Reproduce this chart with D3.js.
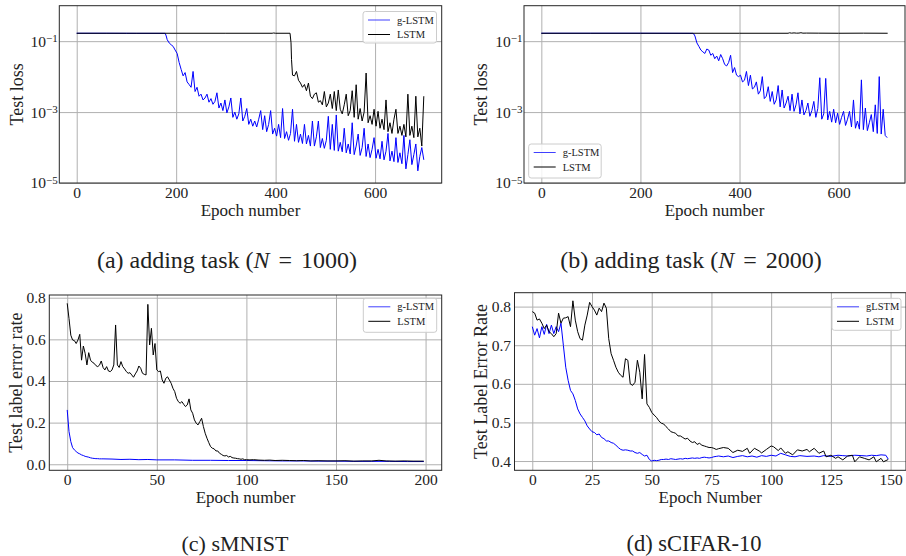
<!DOCTYPE html>
<html><head><meta charset="utf-8">
<script src="https://cdn.jsdelivr.net/npm/d3@7"></script>
<style>
body{margin:0;background:#fff}
svg{display:block}
text{font-family:"Liberation Serif","DejaVu Serif",serif;fill:#222}
</style></head>
<body><svg id="c" width="906" height="556"></svg>
<script>
// ---------------- DATA ----------------
// (a) adding task N=1000 : test loss
const addA_gFlatEpochs = [0, 60, 120, 178, 180];
const addA_gFlatLoss   = [0.167, 0.167, 0.166, 0.166, 0.14];
const addA_gStart = 182, addA_gStep = 4;
const addA_gLoss = [1.1e-1,8.9e-2,7.9e-2,7.1e-2,5.6e-2,4.5e-2,2.5e-2,1.6e-2,1.05e-2,1.3e-2,
 7.1e-3,6.0e-3,5.0e-3,1.4e-2,3.8e-3,5.0e-3,2.8e-3,3.2e-3,2.2e-3,2.5e-3,
 3.2e-3,1.9e-3,2.4e-3,1.66e-3,2.0e-3,3.5e-3,1.3e-3,1.8e-3,1.1e-3,2.2e-3,
 9.5e-4,1.4e-3,2.5e-3,7.1e-4,1.0e-3,6.3e-4,8.9e-4,2.5e-3,5.6e-4,7.6e-4,
 1.26e-3,4.5e-4,6.3e-4,4.0e-4,5.6e-4,3.8e-4,6.3e-4,1.1e-3,3.2e-4,7.9e-4,
 2.8e-4,4.5e-4,1.1e-3,2.4e-4,3.5e-4,2.1e-4,4.5e-4,1.9e-4,1.26e-3,1.8e-4,
 2.8e-4,1.6e-4,2.5e-4,1.2e-3,1.5e-4,4.5e-4,1.4e-4,2.4e-4,1.3e-4,4.5e-4,
 1.26e-4,2.2e-4,1.1e-4,5.6e-4,1.1e-4,2.0e-4,5.6e-4,1.0e-4,1.8e-4,9.5e-5,
 1.6e-4,7.6e-4,8.9e-5,4.5e-4,8.3e-5,8.3e-4,7.9e-5,1.4e-4,7.6e-5,3.5e-4,
 7.1e-5,1.26e-4,6.6e-5,5.0e-4,6.3e-5,1.1e-4,2.4e-4,6.0e-5,1.0e-4,3.5e-4,
 5.6e-5,1.26e-4,5.2e-5,8.9e-5,1.9e-4,5.0e-5,8.9e-5,4.8e-5,1.5e-4,4.5e-5,
 7.9e-5,2.5e-4,4.2e-5,7.9e-5,4.0e-5,1.9e-4,3.8e-5,7.1e-5,3.5e-5,2.2e-4,
 2.5e-5,6.3e-5,1.66e-4,3.3e-5,6.3e-5,1.26e-4,2.2e-5,5.6e-5,1.0e-4,4.5e-5];
const addA_lFlatEpochs = [0, 100, 200, 300, 393, 396, 400, 429, 431, 432];
const addA_lFlatLoss   = [0.167, 0.167, 0.167, 0.167, 0.167, 0.17, 0.167, 0.167, 0.09, 0.03];
const addA_lStart = 434, addA_lStep = 4;
const addA_lLoss = [1.1e-2,1.05e-2,1.4e-2,7.9e-3,6.6e-3,5.0e-3,6.0e-3,4.0e-3,6.6e-3,2.8e-3,
 2.4e-3,3.2e-3,3.5e-3,1.9e-3,2.1e-3,1.6e-3,3.8e-3,1.4e-3,1.8e-3,3.2e-3,
 1.26e-3,3.8e-3,1.1e-3,4.2e-3,1.2e-3,8.9e-4,1.6e-3,3.2e-3,7.9e-4,1.1e-3,
 4.0e-3,7.1e-4,5.9e-3,6.3e-4,1.26e-3,5.6e-4,1.0e-3,1.26e-2,5.0e-4,7.9e-4,
 4.5e-4,1.2e-3,4.0e-4,1.05e-3,3.5e-4,6.3e-4,3.2e-4,2.2e-3,2.8e-4,5.0e-4,
 2.5e-4,6.3e-4,1.2e-3,2.5e-4,4.0e-4,2.2e-4,4.5e-4,2.0e-4,3.2e-3,2.2e-4,
 4.0e-4,1.9e-4,2.8e-3,2.0e-4,3.5e-4,1.1e-4,2.8e-3];

// (b) adding task N=2000 : test loss
const addB_gFlatEpochs = [0, 100, 200, 306, 308];
const addB_gFlatLoss   = [0.167, 0.167, 0.167, 0.166, 0.158];
const addB_gStart = 310, addB_gStep = 4;
const addB_gLoss = [1.4e-1,8.9e-2,7.1e-2,5.6e-2,5.0e-2,4.5e-2,6.0e-2,5.6e-2,4.0e-2,4.5e-2,
 3.2e-2,3.8e-2,2.8e-2,4.2e-2,3.2e-2,2.2e-2,2.0e-2,2.5e-2,4.0e-2,1.3e-2,
 1.8e-2,1.1e-2,1.0e-2,1.1e-2,7.1e-3,7.9e-3,1.4e-2,5.6e-3,1.1e-2,4.5e-3,
 5.0e-3,7.1e-3,3.2e-3,4.0e-3,1.0e-2,2.4e-3,2.8e-3,5.2e-3,2.0e-3,3.8e-3,
 1.66e-3,2.2e-3,5.6e-3,1.4e-3,4.2e-3,1.3e-3,1.8e-3,2.8e-3,1.1e-3,3.2e-3,
 1.05e-3,1.6e-3,3.5e-3,8.9e-4,2.2e-3,8.3e-4,1.1e-3,1.8e-3,7.6e-4,1.1e-3,
 2.0e-3,7.1e-4,1.26e-3,9.3e-3,6.3e-4,8.9e-4,8.9e-3,6.0e-4,1.05e-3,5.2e-4,
 1.2e-3,5.0e-4,9.3e-4,4.5e-4,7.1e-4,1.05e-3,4.2e-4,6.3e-4,1.05e-3,3.8e-4,
 2.2e-3,3.5e-4,5.6e-4,3.3e-4,8.1e-3,3.2e-4,1.3e-3,3.0e-4,5.0e-4,8.5e-4,
 2.8e-4,1.6e-3,2.5e-4,1.0e-2,2.4e-4,1.2e-3,2.2e-4,1.9e-4];
const addB_lEpochs = [0,100,200,300,400,498,501,505,510,515,520,524,528,535,560,600,650,699];
const addB_lLoss   = [0.167,0.167,0.167,0.167,0.167,0.167,0.172,0.168,0.171,0.168,0.169,0.173,0.168,0.169,0.168,0.167,0.168,0.167];

// (c) sMNIST : test label error rate
const mn_gEarly = [0.261,0.157,0.109,0.080,0.069,0.061,0.054,0.050,0.045,0.042,0.038,0.036,0.034,0.031,0.029,0.028,0.027,0.027,0.026,0.026,0.026];
const mn_gTailEpochs = [25,30,35,40,45,50,60,70,80,90,100,110,120,130,140,150,160,170,180,190,199];
const mn_gTail = [0.025,0.023,0.024,0.022,0.023,0.021,0.021,0.019,0.019,0.018,0.018,0.017,0.016,0.016,0.015,0.015,0.014,0.014,0.014,0.013,0.013];
const mn_lEarly = [0.773,0.700,0.620,0.597,0.594,0.580,0.597,0.624,0.500,0.568,
 0.533,0.477,0.536,0.500,0.490,0.485,0.474,0.469,0.476,0.496,
 0.465,0.453,0.469,0.448,0.445,0.453,0.477,0.669,0.477,0.465,
 0.493,0.469,0.458,0.445,0.437,0.440,0.429,0.418,0.434,0.448,
 0.472,0.461,0.437,0.432,0.429,0.768,0.573,0.653,0.525,0.580,
 0.453,0.445,0.448,0.405,0.389,0.413,0.420,0.405,0.389,0.365,
 0.349,0.317,0.301,0.293,0.301,0.288,0.277,0.285,0.314,0.261,
 0.245,0.213,0.197,0.189,0.205,0.221,0.181,0.149,0.125,0.104,
 0.085,0.077,0.074,0.064,0.064,0.053,0.048,0.042,0.040,0.042,
 0.035,0.038,0.032,0.030,0.029,0.027,0.026,0.024,0.026,0.022,0.022];
const mn_lTailEpochs = [102,104,107,110,113,116,120,124,128,132,136,140,145,150,155,160,165,170,174,178,183,188,193,199];
const mn_lTail = [0.021,0.022,0.020,0.019,0.020,0.018,0.019,0.018,0.017,0.018,0.016,0.017,0.016,0.016,0.017,0.015,0.016,0.016,0.019,0.016,0.015,0.016,0.015,0.015];

// (d) sCIFAR-10 : test label error rate
const cf_gEarly = [0.748,0.726,0.743,0.719,0.748,0.728,0.754,0.730,0.752,0.730,
 0.748,0.735,0.757,0.700,0.643,0.609,0.583,0.574,0.557,0.535,
 0.522,0.513,0.504,0.491,0.483,0.476,0.474,0.468,0.470,0.461,
 0.458,0.452,0.452,0.448,0.446,0.441,0.435,0.430,0.428,0.429,
 0.428,0.426,0.426,0.422,0.420,0.422,0.417,0.413,0.415,0.404,
 0.400,0.402,0.401,0.402,0.404,0.404,0.405,0.404,0.406,0.405,
 0.404,0.405,0.406,0.405,0.407,0.406,0.407,0.408,0.407,0.408,
 0.407,0.409,0.410,0.409,0.408,0.409,0.411,0.412,0.413];
const cf_gTailEpochs = [80,82,84,86,88,90,92,94,96,98,100,102,104,106,108,110,112,115,118,120,122,125,128,130,132,135,138,140,142,144,146,148,149];
const cf_gTail = [0.411,0.413,0.409,0.412,0.414,0.411,0.413,0.410,0.414,0.412,0.415,0.413,0.420,0.416,0.412,0.411,0.414,0.412,0.413,0.411,0.414,0.412,0.415,0.414,0.413,0.415,0.414,0.413,0.415,0.414,0.416,0.415,0.405];
const cf_lEarly = [0.787,0.783,0.765,0.768,0.757,0.743,0.752,0.735,0.730,0.722,
 0.730,0.783,0.757,0.770,0.771,0.774,0.748,0.815,0.765,0.735,
 0.717,0.713,0.752,0.778,0.811,0.800,0.791,0.778,0.796,0.787,
 0.809,0.796,0.717,0.678,0.661,0.643,0.630,0.622,0.617,0.665,
 0.661,0.600,0.596,0.604,0.661,0.630,0.561,0.676,0.548,0.539,
 0.526,0.519,0.513,0.504,0.498,0.496,0.489,0.483,0.476,0.474,
 0.472,0.465,0.465,0.461,0.457,0.459,0.452,0.448,0.450,0.443,
 0.446,0.441,0.439,0.437,0.435,0.435,0.433,0.430,0.432];
const cf_lTailEpochs = [80,82,84,86,88,90,91,93,95,96,98,100,101,103,104,106,107,109,111,113,115,116,118,120,122,123,125,127,128,130,132,134,135,137,139,141,143,144,146,147,149];
const cf_lTail = [0.435,0.433,0.422,0.428,0.425,0.433,0.420,0.433,0.426,0.421,0.430,0.439,0.437,0.427,0.434,0.420,0.424,0.416,0.429,0.426,0.430,0.424,0.433,0.420,0.426,0.411,0.415,0.407,0.411,0.403,0.413,0.415,0.398,0.411,0.407,0.403,0.411,0.398,0.407,0.398,0.404];

// tick labels
const addXTicks = [0, 200, 400, 600];
const addYTicks = [1e-5, 1e-3, 1e-1];
const mnXTicks = [0, 50, 100, 150, 200];
const mnYTicks = [0.0, 0.2, 0.4, 0.6, 0.8];
const cfXTicks = [0, 25, 50, 75, 100, 125, 150];
const cfYTicks = [0.4, 0.5, 0.6, 0.7, 0.8];

// ---------------- helpers ----------------
const pairs = (es, vs) => es.map((e, i) => [e, vs[i]]);
const stepped = (start, step, vs) => vs.map((v, i) => [start + i * step, v]);
const BLUE = "#0000ff", BLACK = "#000000";
const SERIF = '"Liberation Serif","DejaVu Serif",serif';

const svg = d3.select("#c");

function panel(cfg) {
  const g = svg.append("g");
  const x = d3.scaleLinear().domain(cfg.xDom).range([cfg.L, cfg.R]);
  const y = (cfg.log ? d3.scaleLog() : d3.scaleLinear()).domain(cfg.yDom).range([cfg.B, cfg.T]);
  const xa = g.append("g").attr("transform", `translate(0,${cfg.B})`)
    .call(d3.axisBottom(x).tickValues(cfg.xTicks).tickSize(-(cfg.B - cfg.T)).tickPadding(4).tickFormat(d3.format("d")));
  const ya = g.append("g").attr("transform", `translate(${cfg.L},0)`)
    .call(d3.axisLeft(y).tickValues(cfg.yTicks).tickSize(-(cfg.R - cfg.L)).tickPadding(cfg.log ? 1.5 : 3.5)
      .tickFormat(cfg.log ? (d => "") : d3.format(".1f")));
  [xa, ya].forEach(a => {
    a.attr("font-family", SERIF).attr("font-size", 15.5);
    a.select(".domain").remove();
    a.selectAll(".tick line").attr("stroke", "#b0b0b0").attr("stroke-width", 1);
    a.selectAll(".tick text").attr("fill", "#2a2a2a").style("font-size", "15.5px").style("font-family", SERIF);
  });
  xa.selectAll(".tick text").attr("dy", "0.71em");
  if (cfg.log) {
    ya.selectAll(".tick text").each(function(d) {
      const t = d3.select(this);
      t.text("");
      t.append("tspan").text("10");
      t.append("tspan").attr("dy", "-0.45em").style("font-size", "11px").text("\u2212" + Math.round(-Math.log10(d)));
    });
  }
  const line = d3.line().x(d => x(d[0])).y(d => y(d[1]));
  cfg.series.forEach(s => {
    g.append("path").datum(s.data).attr("fill", "none").attr("stroke", s.color)
      .attr("stroke-width", 1).attr("stroke-linejoin", "round").attr("d", line);
  });
  g.append("rect").attr("x", cfg.L).attr("y", cfg.T).attr("width", cfg.R - cfg.L).attr("height", cfg.B - cfg.T)
    .attr("fill", "none").attr("stroke", "#262626").attr("stroke-width", 1);
  const lg = cfg.legend;
  g.append("rect").attr("x", lg.x).attr("y", lg.y).attr("width", lg.w).attr("height", lg.h)
    .attr("rx", 2.5).attr("fill", "#fff").attr("fill-opacity", 0.85).attr("stroke", "#cccccc");
  cfg.series.forEach((s, i) => {
    const yy = lg.y + 8.5 + i * 14.5;
    g.append("line").attr("x1", lg.x + 5).attr("x2", lg.x + 27).attr("y1", yy).attr("y2", yy)
      .attr("stroke", s.color).attr("stroke-width", 1).attr("stroke-opacity", s.color === BLUE ? 0.75 : 1);
    g.append("text").attr("x", lg.x + 34).attr("y", yy + 3.5).style("font-family", SERIF)
      .style("font-size", "10.5px").text(s.name);
  });
  g.append("text").attr("x", (cfg.L + cfg.R) / 2).attr("y", cfg.B + 33).attr("text-anchor", "middle")
    .attr("fill", "#2a2a2a").style("font-family", SERIF).style("font-size", "17px").text(cfg.xlabel);
  g.append("text").attr("transform", `translate(${cfg.ylx},${(cfg.T + cfg.B) / 2}) rotate(-90)`)
    .attr("text-anchor", "middle").attr("dy", "0.35em").attr("fill", "#2a2a2a").style("font-family", SERIF)
    .style("font-size", "18px").text(cfg.ylabel);
  const c = g.append("text").attr("x", cfg.capX).attr("y", cfg.capY).attr("text-anchor", "middle")
    .attr("fill", "#111").style("font-family", SERIF).style("font-size", cfg.capSize + "px");
  cfg.caption.forEach(p => {
    const ts = c.append("tspan").text(p.t);
    if (p.it) ts.style("font-style", "italic");
    if (p.dx) ts.attr("dx", p.dx);
  });
}

panel({
  L: 59.3, R: 441.7, T: 5.7, B: 183, xDom: [-35, 734], yDom: [1e-5, 1], log: true,
  xTicks: addXTicks, yTicks: addYTicks, xlabel: "Epoch number", ylabel: "Test loss", ylx: 16.5,
  legend: {x: 363, y: 11.5, w: 73.5, h: 31.5},
  series: [
    {name: "g-LSTM", color: BLUE, data: pairs(addA_gFlatEpochs, addA_gFlatLoss).concat(stepped(addA_gStart, addA_gStep, addA_gLoss))},
    {name: "LSTM", color: BLACK, data: pairs(addA_lFlatEpochs, addA_lFlatLoss).concat(stepped(addA_lStart, addA_lStep, addA_lLoss))}
  ],
  capX: 227, capY: 268, capSize: 24,
  caption: [{t: "(a) adding task ("}, {t: "N", it: true}, {t: "=", dx: 9}, {t: "1000)", dx: 9}]
});
panel({
  L: 524, R: 905, T: 5.7, B: 183, xDom: [-35, 734], yDom: [1e-5, 1], log: true,
  xTicks: addXTicks, yTicks: addYTicks, xlabel: "Epoch number", ylabel: "Test loss", ylx: 481,
  legend: {x: 528.7, y: 144, w: 72.5, h: 34},
  series: [
    {name: "g-LSTM", color: BLUE, data: pairs(addB_gFlatEpochs, addB_gFlatLoss).concat(stepped(addB_gStart, addB_gStep, addB_gLoss))},
    {name: "LSTM", color: BLACK, data: pairs(addB_lEpochs, addB_lLoss)}
  ],
  capX: 691, capY: 268, capSize: 24,
  caption: [{t: "(b) adding task ("}, {t: "N", it: true}, {t: "=", dx: 9}, {t: "2000)", dx: 9}]
});
panel({
  L: 49.3, R: 441.7, T: 295, B: 470.3, xDom: [-10, 209], yDom: [-0.029, 0.813], log: false,
  xTicks: mnXTicks, yTicks: mnYTicks, xlabel: "Epoch number", ylabel: "Test label error rate", ylx: 16,
  legend: {x: 363.3, y: 298.3, w: 73.4, h: 34},
  series: [
    {name: "g-LSTM", color: BLUE, data: stepped(0, 1, mn_gEarly).concat(pairs(mn_gTailEpochs, mn_gTail))},
    {name: "LSTM", color: BLACK, data: stepped(0, 1, mn_lEarly).concat(pairs(mn_lTailEpochs, mn_lTail))}
  ],
  capX: 235, capY: 551, capSize: 22,
  caption: [{t: "(c) sMNIST"}]
});
panel({
  L: 514.5, R: 906, T: 292.7, B: 470.3, xDom: [-7.45, 156.45], yDom: [0.376, 0.836], log: false,
  xTicks: cfXTicks, yTicks: cfYTicks, xlabel: "Epoch Number", ylabel: "Test Label Error Rate", ylx: 481,
  legend: {x: 832, y: 298.3, w: 69, h: 32},
  series: [
    {name: "gLSTM", color: BLUE, data: stepped(0, 1, cf_gEarly).concat(pairs(cf_gTailEpochs, cf_gTail))},
    {name: "LSTM", color: BLACK, data: stepped(0, 1, cf_lEarly).concat(pairs(cf_lTailEpochs, cf_lTail))}
  ],
  capX: 694, capY: 551, capSize: 22.5,
  caption: [{t: "(d) sCIFAR-10"}]
});
</script></body></html>
